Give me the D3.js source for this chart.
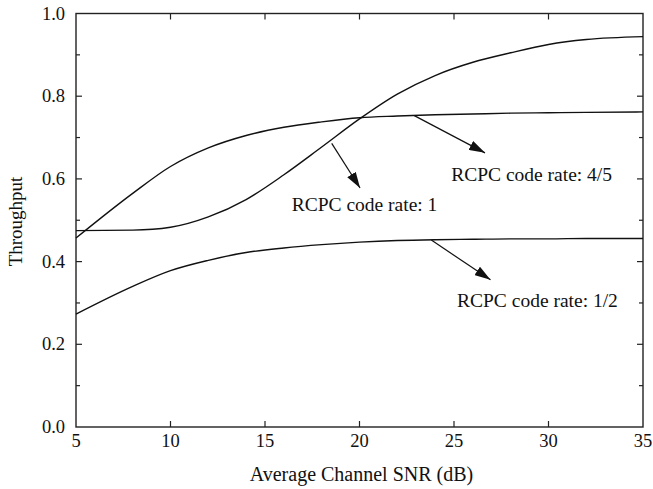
<!DOCTYPE html>
<html>
<head>
<meta charset="utf-8">
<script src="https://cdn.jsdelivr.net/npm/d3@7"></script>
<style>
  body { margin: 0; background: #fff; }
</style>
</head>
<body>
<svg id="chart" width="653" height="489" font-family="'Liberation Serif', 'DejaVu Serif', serif"></svg>
<script>
// SNR samples (dB)
const snr = [5, 8, 10, 12, 14, 16, 18, 20, 22, 24, 26, 28, 30, 32, 35];
// throughput for each RCPC code rate
const rate1 = [0.475, 0.476, 0.483, 0.508, 0.55, 0.61, 0.677, 0.745, 0.805, 0.85, 0.882, 0.905, 0.925, 0.937, 0.944];
const rate45 = [0.457, 0.565, 0.63, 0.675, 0.705, 0.725, 0.738, 0.748, 0.752, 0.755, 0.757, 0.759, 0.76, 0.761, 0.762];
const rate12 = [0.273, 0.34, 0.378, 0.403, 0.422, 0.433, 0.441, 0.447, 0.451, 0.453, 0.454, 0.455, 0.455, 0.456, 0.456];

const xTicks = [5, 10, 15, 20, 25, 30, 35];
const yTicks = [0.0, 0.2, 0.4, 0.6, 0.8, 1.0];
const yMinorTicks = [0.1, 0.3, 0.5, 0.7, 0.9];

// annotation: label text, arrow start/end and label anchor in data units
const labels = ['RCPC code rate: 1', 'RCPC code rate: 4/5', 'RCPC code rate: 1/2'];
const arrowFrom = [[18.53, 0.686], [22.9, 0.753], [23.8, 0.452]];
const arrowTo = [[20.03, 0.578], [26.64, 0.663], [26.93, 0.356]];
const labelAt = [[16.41, 0.523], [24.85, 0.595], [25.16, 0.289]];

const margin = {top: 13.5, right: 10, bottom: 62, left: 76};
const width = 643 - margin.left;
const height = 427 - margin.top;

const svg = d3.select('#chart');
const g = svg.append('g').attr('transform', `translate(${margin.left},${margin.top})`);

const x = d3.scaleLinear().domain([5, 35]).range([0, width]);
const y = d3.scaleLinear().domain([0, 1]).range([height, 0]);

// frame
g.append('rect')
  .attr('width', width).attr('height', height)
  .attr('fill', 'none').attr('stroke', '#222').attr('stroke-width', 1.4);

// ticks (inside on every side)
const tick = g.append('g').attr('stroke', '#222').attr('stroke-width', 1.2);
xTicks.slice(1, -1).forEach(v => {
  tick.append('line').attr('x1', x(v)).attr('x2', x(v)).attr('y1', height).attr('y2', height - 6);
  tick.append('line').attr('x1', x(v)).attr('x2', x(v)).attr('y1', 0).attr('y2', 6);
});
yTicks.slice(1, -1).forEach(v => {
  tick.append('line').attr('x1', 0).attr('x2', 6).attr('y1', y(v)).attr('y2', y(v));
  tick.append('line').attr('x1', width).attr('x2', width - 6).attr('y1', y(v)).attr('y2', y(v));
});
yMinorTicks.forEach(v => {
  tick.append('line').attr('x1', 0).attr('x2', 4).attr('y1', y(v)).attr('y2', y(v));
  tick.append('line').attr('x1', width).attr('x2', width - 4).attr('y1', y(v)).attr('y2', y(v));
});

// tick labels
g.selectAll('.xl').data(xTicks).enter().append('text')
  .attr('x', d => x(d)).attr('y', height + 20)
  .attr('text-anchor', 'middle').attr('font-size', 18.5).attr('fill', '#111')
  .text(d => d);
g.selectAll('.yl').data(yTicks).enter().append('text')
  .attr('x', -11).attr('y', d => y(d) + 6)
  .attr('text-anchor', 'end').attr('font-size', 18.5).attr('fill', '#111')
  .text(d => d.toFixed(1));

// axis titles
g.append('text')
  .attr('x', width / 2 + 2).attr('y', height + 54)
  .attr('text-anchor', 'middle').attr('font-size', 20).attr('fill', '#111')
  .text('Average Channel SNR (dB)');
g.append('text')
  .attr('transform', `translate(${-54},${y(0.497)}) rotate(-90)`)
  .attr('text-anchor', 'middle').attr('font-size', 19).attr('fill', '#111')
  .text('Throughput');

// curves
const line = d3.line()
  .x((d, i) => x(snr[i]))
  .y(d => y(d))
  .curve(d3.curveMonotoneX);

[rate1, rate45, rate12].forEach(s => {
  g.append('path')
    .datum(s)
    .attr('d', line)
    .attr('fill', 'none')
    .attr('stroke', '#111')
    .attr('stroke-width', 1.4);
});

// arrows
svg.append('defs').append('marker')
  .attr('id', 'head')
  .attr('viewBox', '0 0 16 10')
  .attr('refX', 16).attr('refY', 5)
  .attr('markerWidth', 16).attr('markerHeight', 10)
  .attr('markerUnits', 'userSpaceOnUse')
  .attr('orient', 'auto')
  .append('path')
  .attr('d', 'M0,0 L16,5 L0,10 Z')
  .attr('fill', '#111');

labels.forEach((t, i) => {
  g.append('line')
    .attr('x1', x(arrowFrom[i][0])).attr('y1', y(arrowFrom[i][1]))
    .attr('x2', x(arrowTo[i][0])).attr('y2', y(arrowTo[i][1]))
    .attr('stroke', '#111').attr('stroke-width', 1.2)
    .attr('marker-end', 'url(#head)');
  g.append('text')
    .attr('x', x(labelAt[i][0])).attr('y', y(labelAt[i][1]))
    .attr('font-size', 19.5).attr('fill', '#111')
    .text(t);
});
</script>
</body>
</html>
